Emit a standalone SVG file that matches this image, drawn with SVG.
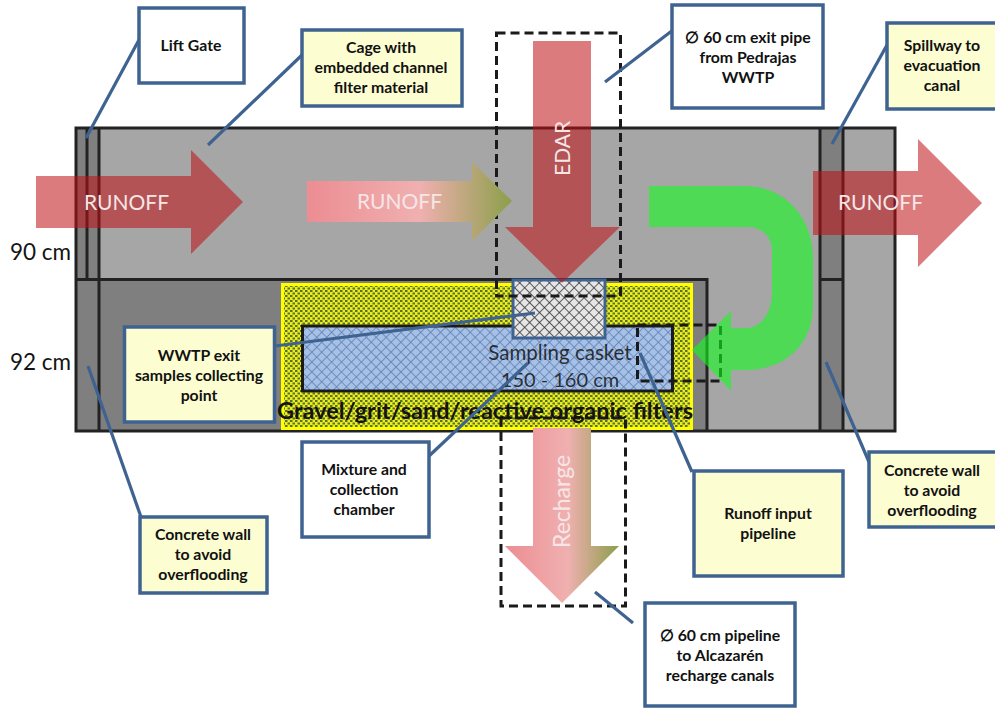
<svg xmlns="http://www.w3.org/2000/svg" width="995" height="708" viewBox="0 0 995 708">
<style>
.box{stroke:#3f6391;stroke-width:3.5}
.w{fill:#fff}.y{fill:#fdfdd2}
.t{font-family:"Lato","Liberation Sans",sans-serif;font-weight:700;font-size:15.8px;fill:#111;text-anchor:middle}
.s{stroke:#222;stroke-width:3;fill:none}
.d{stroke:#1a1a1a;stroke-width:3;fill:none;stroke-dasharray:9 5}
.l{stroke:#3f6391;stroke-width:3.2;fill:none}
.a{font-family:"Lato","Liberation Sans",sans-serif;font-size:21px;fill:#f6e6e6}
.c{font-family:"Lato","Liberation Sans",sans-serif;fill:#141414}
.r{fill:#c00f14;fill-opacity:.55}
</style>
<defs>
<pattern id="dots" width="5" height="5" patternUnits="userSpaceOnUse"><rect width="5" height="5" fill="#eeee10"/><rect x="0" y="0" width="2.500" height="2" fill="#56703a"/><rect x="2.500" y="2.500" width="2.500" height="2" fill="#56703a"/></pattern>
<pattern id="hb" width="7" height="7" patternUnits="userSpaceOnUse" patternTransform="rotate(45)"><rect width="7" height="7" fill="#a6c0e6"/><path d="M0 0H7M0 0V7" stroke="#5d7fb2" stroke-width="1.6"/></pattern>
<pattern id="hg" width="7" height="7" patternUnits="userSpaceOnUse" patternTransform="rotate(45)"><rect width="7" height="7" fill="#e6e6e6"/><path d="M0 0H7M0 0V7" stroke="#2a2a2a" stroke-width="1.4"/></pattern>
<linearGradient id="g1" x1="0" y1="0" x2="1" y2="0"><stop offset="0" stop-color="#ec8d92"/><stop offset=".55" stop-color="#f0b0b0"/><stop offset="1" stop-color="#8b9f4a"/></linearGradient>
</defs>
<g id="structure">
<rect x="76" y="128" width="819" height="303" fill="#a6a6a6"/>
<rect x="76" y="279" width="631" height="152" fill="#7f7f7f"/>
<rect x="76" y="128" width="23" height="151" fill="#808080"/>
<rect x="820" y="128" width="23" height="303" fill="#7f7f7f"/>
<path class="s" d="M76 128H895V431H76ZM76 279.500H707V431M87 128V279M99 128V431M820 128V431M843 128V431M820 279.500H843"/>
<rect x="281" y="283" width="412" height="147" fill="#ffff00"/>
<rect x="284" y="286" width="406" height="141" fill="url(#dots)"/>
</g>
<g id="sampling-casket">
<rect x="302.500" y="326" width="370" height="65" fill="url(#hb)" stroke="#1a1a1a" stroke-width="3"/>
<text class="c" x="560" y="360" font-size="20.500" text-anchor="middle" fill-opacity=".85">Sampling casket</text>
<text class="c" x="560" y="387" font-size="20" text-anchor="middle" fill-opacity=".85">150 - 160 cm</text>
</g>
<g id="chamber"><rect x="513" y="280" width="92" height="58" fill="url(#hg)" stroke="#3f6391" stroke-width="3"/></g>
<g id="dashed-boxes">
<rect class="d" x="496.500" y="33" width="124" height="263"/>
<rect class="d" x="637.500" y="325" width="83" height="56"/>
<rect class="d" x="501" y="418" width="124.500" height="188"/>
</g>
<g id="filter-label"><text class="c" x="485" y="419" font-size="23.500" font-weight="700" text-anchor="middle" textLength="416" lengthAdjust="spacingAndGlyphs">Gravel/grit/sand/reactive organic filters</text></g>
<g id="arrows">
<path class="r" d="M36 176H191V150L243 202L191 254V228H36Z"/>
<path fill="url(#g1)" d="M307 181H472V162L512 201L472 241V222H307Z"/>
<path class="r" d="M533 41H591V227H620L562 283L505 227H533Z"/>
<path class="r" d="M813 171H918V139L982 203L918 267V235H813Z"/>
<path fill="url(#g1)" d="M533 428H591V546H619L562 603L505 546H533Z"/>
<path fill="#10ff1a" fill-opacity=".585" d="M649 186H745C785 186 813 218 813 258V305C813 345 785 370 745 370H731V391L692 350L731 311V328H745C762 328 772 312 772 292V250C772 237 762 227 748 227H649Z"/>
<text class="a" x="84" y="210">RUNOFF</text>
<text class="a" x="357" y="209">RUNOFF</text>
<text class="a" x="838" y="210">RUNOFF</text>
<text class="a" transform="translate(570 176) rotate(-90)">EDAR</text>
<text class="a" style="font-size:23px" transform="translate(570 548) rotate(-90)">Recharge</text>
</g>
<g id="dimensions">
<text class="c" x="10" y="260" font-size="22.500">90 cm</text>
<text class="c" x="10" y="370" font-size="22.500">92 cm</text>
</g>
<g id="connectors">
<path class="l" d="M140 38L86 138"/>
<path class="l" d="M302 55L208 145"/>
<path class="l" d="M673 30L605 82"/>
<path class="l" d="M887 45L832 144"/>
<path class="l" d="M275 346L535 313"/>
<path class="l" d="M141 517L88 366"/>
<path class="l" d="M429 456L528 363"/>
<path class="l" d="M692 472L640 353"/>
<path class="l" d="M869 462L826 362"/>
<path class="l" d="M633 623L595 592"/>
</g>
<g id="lift-gate"><rect class="box w" x="139" y="8" width="105" height="75"/><text class="t" x="191" y="51">Lift Gate</text></g>
<g id="cage"><rect class="box y" x="302" y="30" width="160" height="76"/><text class="t"><tspan x="381" y="53">Cage with</tspan><tspan x="381" y="73">embedded channel</tspan><tspan x="381" y="93">filter material</tspan></text></g>
<g id="exit-pipe"><rect class="box w" x="672" y="5" width="151" height="103"/><text class="t"><tspan x="748" y="43">∅ 60 cm exit pipe</tspan><tspan x="748" y="63">from Pedrajas</tspan><tspan x="748" y="83">WWTP</tspan></text></g>
<g id="spillway"><rect class="box y" x="887" y="23" width="112" height="86"/><text class="t"><tspan x="942" y="51">Spillway to</tspan><tspan x="942" y="71">evacuation</tspan><tspan x="942" y="91">canal</tspan></text></g>
<g id="wwtp-exit"><rect class="box y" x="124.500" y="327" width="150" height="95"/><text class="t"><tspan x="199" y="361">WWTP exit</tspan><tspan x="199" y="381">samples collecting</tspan><tspan x="199" y="401">point</tspan></text></g>
<g id="wall-left"><rect class="box y" x="140" y="517" width="127" height="76"/><text class="t"><tspan x="203" y="540">Concrete wall</tspan><tspan x="203" y="560">to avoid</tspan><tspan x="203" y="580">overflooding</tspan></text></g>
<g id="mixture"><rect class="box w" x="302" y="442" width="127" height="95"/><text class="t"><tspan x="364" y="475">Mixture and</tspan><tspan x="364" y="495">collection</tspan><tspan x="364" y="515">chamber</tspan></text></g>
<g id="runoff-input"><rect class="box y" x="694" y="471" width="149" height="105"/><text class="t"><tspan x="768" y="519">Runoff input</tspan><tspan x="768" y="539">pipeline</tspan></text></g>
<g id="wall-right"><rect class="box y" x="869" y="452" width="130" height="75"/><text class="t"><tspan x="932" y="476">Concrete wall</tspan><tspan x="932" y="496">to avoid</tspan><tspan x="932" y="516">overflooding</tspan></text></g>
<g id="pipeline"><rect class="box w" x="645" y="603" width="150" height="103"/><text class="t"><tspan x="720" y="641">∅ 60 cm pipeline</tspan><tspan x="720" y="661">to Alcazarén</tspan><tspan x="720" y="681">recharge canals</tspan></text></g>
</svg>
